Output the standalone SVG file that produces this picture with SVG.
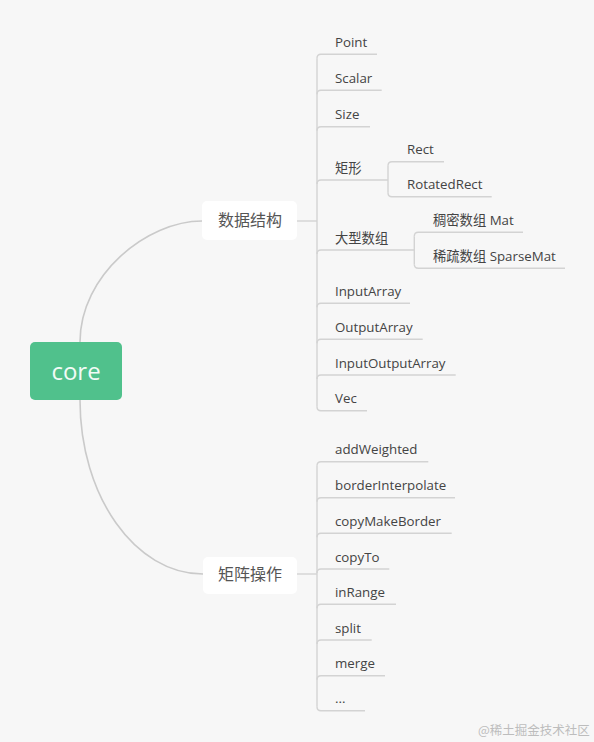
<svg xmlns="http://www.w3.org/2000/svg" width="594" height="742" viewBox="0 0 594 742">
<style>
.bg{fill:#f7f7f7}
.ln{fill:none;stroke:#d3d3d3;stroke-width:1.4}
.cv{fill:none;stroke:#cacaca;stroke-width:1.6}
.t{font-family:"Open Sans","Noto Sans CJK SC",sans-serif;font-size:13.3px;fill:#444}
.b{font-family:"Open Sans","Noto Sans CJK SC",sans-serif;font-size:16px;fill:#555;text-anchor:middle}
.r{font-family:"Open Sans","Noto Sans CJK SC",sans-serif;font-size:24px;fill:#f2fbf6;text-anchor:middle}
.box{fill:#ffffff}
.wm{font-family:"Noto Sans CJK SC",sans-serif;font-size:12.5px;fill:#bdbdbd}
</style>
<rect class="bg" x="0" y="0" width="594" height="742"/>
<g id="connectors">
<path class="cv" d="M80,342 C80,275 147,221 202,221"/>
<path class="cv" d="M80,400 C80,496 135,574 203,574"/>
<path class="ln" d="M297,221 L317,221"/>
<path class="ln" d="M297,574 L317,574"/>
<path class="ln" d="M317,58.3 L317,406.7"/>
<path class="ln" d="M317,58.3 Q317,54.3 321,54.3 L377,54.3"/>
<path class="ln" d="M317,94.3 Q317,90.3 321,90.3 L381.7,90.3"/>
<path class="ln" d="M317,130.7 Q317,126.7 321,126.7 L370,126.7"/>
<path class="ln" d="M317,184 Q317,180 321,180 L388,180"/>
<path class="ln" d="M317,254 Q317,250 321,250 L414.3,250"/>
<path class="ln" d="M317,307.3 Q317,303.3 321,303.3 L410,303.3"/>
<path class="ln" d="M317,343.3 Q317,339.3 321,339.3 L422.7,339.3"/>
<path class="ln" d="M317,379 Q317,375 321,375 L455.7,375"/>
<path class="ln" d="M317,406.7 Q317,410.7 321,410.7 L367,410.7"/>
<path class="ln" d="M388,165.7 L388,192.7"/>
<path class="ln" d="M388,165.7 Q388,161.7 392,161.7 L444,161.7"/>
<path class="ln" d="M388,192.7 Q388,196.7 392,196.7 L491.7,196.7"/>
<path class="ln" d="M414.3,236.3 L414.3,264.3"/>
<path class="ln" d="M414.3,236.3 Q414.3,232.3 418.3,232.3 L523,232.3"/>
<path class="ln" d="M414.3,264.3 Q414.3,268.3 418.3,268.3 L565,268.3"/>
<path class="ln" d="M317,465.7 L317,706.7"/>
<path class="ln" d="M317,465.7 Q317,461.7 321,461.7 L428.3,461.7"/>
<path class="ln" d="M317,501.7 Q317,497.7 321,497.7 L455,497.7"/>
<path class="ln" d="M317,537.3 Q317,533.3 321,533.3 L451.7,533.3"/>
<path class="ln" d="M317,573 Q317,569 321,569 L389.3,569"/>
<path class="ln" d="M317,608.3 Q317,604.3 321,604.3 L396,604.3"/>
<path class="ln" d="M317,644 Q317,640 321,640 L371.7,640"/>
<path class="ln" d="M317,679.7 Q317,675.7 321,675.7 L385,675.7"/>
<path class="ln" d="M317,706.7 Q317,710.7 321,710.7 L365,710.7"/>
</g>
<g id="root">
<rect x="30" y="342" width="92" height="58" rx="5" fill="#50c18c"/>
<text class="r" x="76" y="380">core</text>
</g>
<g id="n-shuju">
<rect class="box" x="202" y="201" width="95" height="39" rx="5"/>
<text class="b" x="250" y="226">数据结构</text>
</g>
<g id="n-juzhen">
<rect class="box" x="203" y="557" width="94" height="37" rx="5"/>
<text class="b" x="250" y="580">矩阵操作</text>
</g>
<g id="c-point"><text class="t" x="335" y="47">Point</text></g>
<g id="c-scalar"><text class="t" x="335" y="83">Scalar</text></g>
<g id="c-size"><text class="t" x="335" y="119">Size</text></g>
<g id="c-juxing"><text class="t" x="335" y="172.5">矩形</text></g>
<g id="c-rect"><text class="t" x="407" y="154">Rect</text></g>
<g id="c-rotatedrect"><text class="t" x="407" y="189">RotatedRect</text></g>
<g id="c-daxing"><text class="t" x="335" y="242.5">大型数组</text></g>
<g id="c-mat"><text class="t" x="433" y="224.5">稠密数组 Mat</text></g>
<g id="c-sparsemat"><text class="t" x="433" y="260.5">稀疏数组 SparseMat</text></g>
<g id="c-inputarray"><text class="t" x="335" y="296">InputArray</text></g>
<g id="c-outputarray"><text class="t" x="335" y="332">OutputArray</text></g>
<g id="c-inputoutputarray"><text class="t" x="335" y="368">InputOutputArray</text></g>
<g id="c-vec"><text class="t" x="335" y="403">Vec</text></g>
<g id="c-addweighted"><text class="t" x="335" y="454">addWeighted</text></g>
<g id="c-borderinterpolate"><text class="t" x="335" y="490">borderInterpolate</text></g>
<g id="c-copymakeborder"><text class="t" x="335" y="525.5">copyMakeBorder</text></g>
<g id="c-copyto"><text class="t" x="335" y="561.5">copyTo</text></g>
<g id="c-inrange"><text class="t" x="335" y="596.5">inRange</text></g>
<g id="c-split"><text class="t" x="335" y="632.5">split</text></g>
<g id="c-merge"><text class="t" x="335" y="668">merge</text></g>
<g id="c-more"><text class="t" x="335" y="703">...</text></g>
<text class="wm" x="478" y="735">@稀土掘金技术社区</text>
</svg>
